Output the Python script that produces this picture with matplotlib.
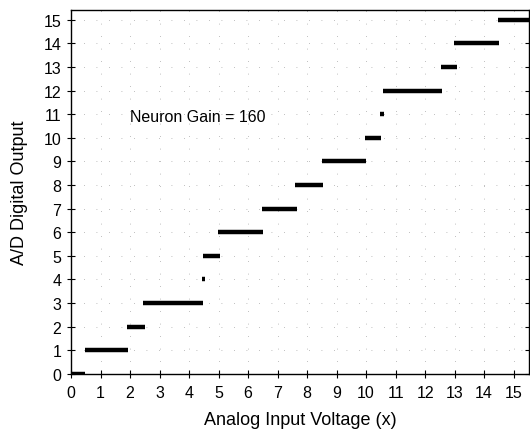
import matplotlib
matplotlib.use("Agg")
from matplotlib import pyplot as plt

# digital output level and the input voltage range over which it is produced
levels = [0, 1, 2, 3, 4, 5, 6, 7, 8, 9, 10, 11, 12, 13, 14, 15]
x_start = [0.0, 0.47, 1.90, 2.44, 4.44, 4.48, 4.98, 6.47, 7.60, 8.50, 9.95, 10.47, 10.57, 12.54, 12.98, 14.47]
x_end = [0.47, 1.93, 2.50, 4.47, 4.54, 5.05, 6.50, 7.66, 8.54, 10.00, 10.50, 10.61, 12.57, 13.08, 14.50, 15.6]
ticks = list(range(16))

plt.rcParams['font.family'] = ['Liberation Sans', 'DejaVu Sans']

fig = plt.figure(figsize=(5.3, 4.31), dpi=100)
ax = fig.add_axes([0.134, 0.130, 0.864, 0.845])

ax.hlines(levels, x_start, x_end, colors='k', linewidth=3.2, capstyle='butt')

ax.set_xlim(0, 15.52)
ax.set_ylim(0, 15.42)
ax.set_xticks(ticks)
ax.set_yticks(ticks)
ax.tick_params(direction='inout', length=6, width=0.8, labelsize=11.5, right=True)
ax.tick_params(axis='x', pad=5)
ax.tick_params(axis='y', pad=4)
ax.grid(True, color='#aaaaaa', linestyle=(0, (1, 14)), linewidth=0.6)
for s in ax.spines.values():
    s.set_linewidth(1.0)

ax.text(2.0, 10.9, 'Neuron Gain = 160', fontsize=11.5, va='center', ha='left')
ax.set_xlabel('Analog Input Voltage (x)', fontsize=13, labelpad=8)
ax.set_ylabel('A/D Digital Output', fontsize=13, labelpad=11)

fig.savefig('out.png', dpi=100)
